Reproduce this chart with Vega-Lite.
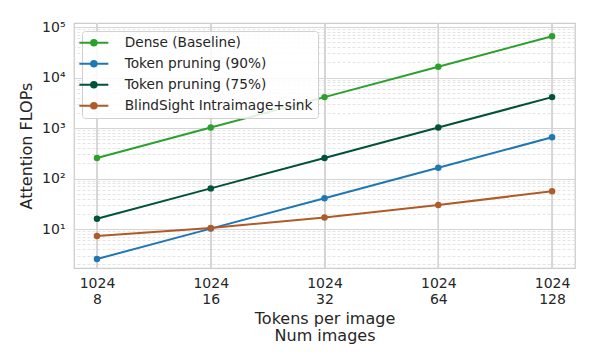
{
  "$schema": "https://vega.github.io/schema/vega-lite/v6.json",
  "autosize": "none",
  "width": 501,
  "height": 245,
  "padding": {"left": 74, "top": 23, "right": 19, "bottom": 95},
  "background": "white",
  "config": {
    "font": "DejaVu Sans",
    "view": {"stroke": "#cccccc", "strokeWidth": 1.25},
    "axis": {"labelColor": "#262626", "titleColor": "#262626", "labelFont": "DejaVu Sans", "titleFont": "DejaVu Sans", "titleFontWeight": "normal"}
  },
  "data": {"values": [
    {"images": 8, "series": "Dense (Baseline)", "flops": 256},
    {"images": 16, "series": "Dense (Baseline)", "flops": 1024},
    {"images": 32, "series": "Dense (Baseline)", "flops": 4096},
    {"images": 64, "series": "Dense (Baseline)", "flops": 16384},
    {"images": 128, "series": "Dense (Baseline)", "flops": 65536},
    {"images": 8, "series": "Token pruning (90%)", "flops": 2.56},
    {"images": 16, "series": "Token pruning (90%)", "flops": 10.24},
    {"images": 32, "series": "Token pruning (90%)", "flops": 40.96},
    {"images": 64, "series": "Token pruning (90%)", "flops": 163.84},
    {"images": 128, "series": "Token pruning (90%)", "flops": 655.36},
    {"images": 8, "series": "Token pruning (75%)", "flops": 16},
    {"images": 16, "series": "Token pruning (75%)", "flops": 64},
    {"images": 32, "series": "Token pruning (75%)", "flops": 256},
    {"images": 64, "series": "Token pruning (75%)", "flops": 1024},
    {"images": 128, "series": "Token pruning (75%)", "flops": 4096},
    {"images": 8, "series": "BlindSight Intraimage+sink", "flops": 7.3},
    {"images": 16, "series": "BlindSight Intraimage+sink", "flops": 10.5},
    {"images": 32, "series": "BlindSight Intraimage+sink", "flops": 17},
    {"images": 64, "series": "BlindSight Intraimage+sink", "flops": 30},
    {"images": 128, "series": "BlindSight Intraimage+sink", "flops": 56}
  ]},
  "encoding": {
    "x": {
      "field": "images", "type": "quantitative",
      "scale": {"type": "log", "base": 2, "domain": [6.955, 147.2], "nice": false},
      "axis": {
        "values": [8, 16, 32, 64, 128], "format": "d",
        "labelAngle": 0, "labelAlign": "center", "labelFontSize": 14, "labelExpr": "['1024', datum.label]", "labelLineHeight": 16,
        "labelPadding": 8, "labelFlush": false, "ticks": false, "domain": false,
        "grid": true, "gridColor": "#d5d5d5", "gridWidth": 1,
        "title": ["Tokens per image", "Num images"], "titleFontSize": 16, "titleLineHeight": 17.5, "titlePadding": 4
      }
    }
  },
  "resolve": {"axis": {"y": "independent"}},
  "layer": [
    {
      "mark": {"type": "rule", "color": "#d5d5d5", "strokeWidth": 1},
      "encoding": {}
    },
    {
      "mark": {"type": "line", "strokeOpacity": 0},
      "encoding": {
        "y": {
          "field": "flops", "type": "quantitative",
          "scale": {"type": "log", "domain": [1.7, 120000], "nice": false},
          "axis": {
            "orient": "right", "labels": false, "ticks": false, "domain": false, "title": null,
            "values": [2,3,4,5,6,7,8,9,20,30,40,50,60,70,80,90,200,300,400,500,600,700,800,900,2000,3000,4000,5000,6000,7000,8000,9000,20000,30000,40000,50000,60000,70000,80000,90000],
            "grid": true, "gridColor": "#dddddd", "gridDash": [3, 2], "gridWidth": 0.8
          }
        },
        "detail": {"field": "series"}
      }
    },
    {
      "mark": {"type": "line", "strokeWidth": 2, "point": {"filled": true, "size": 42}},
      "encoding": {
        "y": {
          "field": "flops", "type": "quantitative",
          "scale": {"type": "log", "domain": [1.7, 120000], "nice": false},
          "axis": {
            "orient": "left", "values": [10, 100, 1000, 10000, 100000],
            "labelExpr": "'10' + ['⁰','¹','²','³','⁴','⁵'][round(log(datum.value)/LN10)]",
            "labelFontSize": 14, "labelPadding": 9, "ticks": false, "domain": false,
            "grid": true, "gridColor": "#d5d5d5", "gridWidth": 1,
            "title": "Attention FLOPs", "titleFontSize": 16, "titlePadding": 7
          }
        },
        "color": {
          "field": "series", "type": "nominal",
          "scale": {
            "domain": ["Dense (Baseline)", "Token pruning (90%)", "Token pruning (75%)", "BlindSight Intraimage+sink"],
            "range": ["#2ca02c", "#1f77b4", "#00523a", "#b05a28"]
          },
          "legend": {
            "title": null, "orient": "top-left", "offset": 8, "padding": 5,
            "strokeColor": "#d0d0d0", "fillColor": "rgba(255,255,255,0.85)", "cornerRadius": 3,
            "labelFontSize": 13.7, "labelColor": "#262626", "labelOffset": 24, "labelLimit": 300,
            "rowPadding": 6, "symbolSize": 100, "symbolStrokeWidth": 2,
            "symbolType": "M-2.9,0L2.9,0M-0.55,0A0.55,0.55,0,1,0,0.55,0A0.55,0.55,0,1,0,-0.55,0Z",
            "encode": {"symbols": {"update": {"fill": {"scale": "color", "field": "value"}}}}
          }
        }
      }
    }
  ]
}
